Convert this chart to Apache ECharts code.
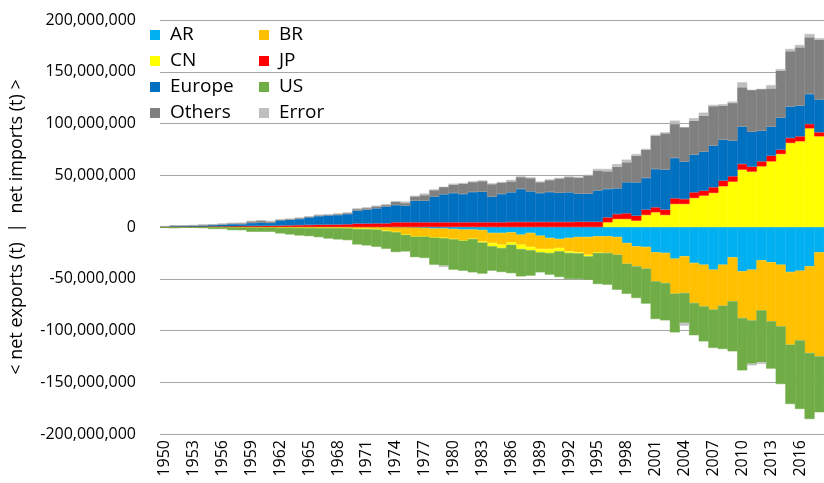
<!DOCTYPE html>
<html lang="en">

<head>
    <meta charset="UTF-8">
    <title>Soybean net trade</title>
    <script src="https://cdn.jsdelivr.net/npm/echarts@6/dist/echarts.min.js"></script>
    <style>
        html, body { margin: 0; padding: 0; background: #fff; }
        #chart { width: 824px; height: 483px; }
    </style>
</head>

<body>
    <div id="chart"></div>

    <script>
        // years 1950 - 2018
        const years = [];
        for (let y = 1950; y <= 2018; y++) years.push(String(y));

        // values in million tonnes (+ = net imports, - = net exports)
        const AR = [
            0, 0, 0, 0, 0, 0, 0, 0, 0, 0, 0, 0, 0, 0, 0, 0, 0, 0, 0, 0, 0, 0, 0, 0,
            -0.3, -0.3, -0.5, -0.8, -1.5, -1.5, -2, -2.5, -2.5, -3,
            -5.8, -5.8, -5.2, -7.4, -5.8, -8.4, -10.6, -11.6, -10.6, -9.7, -9.7, -9.0,
            -9.0, -9.7, -15.5, -18.7, -19.3, -24.5, -25.1, -30.6, -28.3, -34.8, -36.4, -41.2,
            -36.4, -29.3, -42.8, -41.2, -32.2, -34.1, -36.4, -43.5, -42.2, -38.0, -24.5
        ];
        const BR = [
            0, 0, 0, 0, 0, 0, 0, 0, -0.1, -0.1, -0.1, -0.1, -0.2, -0.2, -0.3, -0.4, -0.5, -0.5, -0.6, -0.7, -1.3, -1.6, -2.0, -3.5,
            -4.5, -7.0, -8.5, -8.2, -8.5, -9.1, -9.6, -10.4, -8.8, -11.0,
            -9.7, -11.3, -9.7, -9.7, -13.5, -12.9, -10.6, -8.7, -12.9, -14.8, -17.1, -15.5,
            -16.1, -17.1, -20.0, -19.3, -20.9, -28.0, -29.0, -33.8, -35.4, -38.6, -40.3, -38.6,
            -39.6, -42.5, -45.1, -49.0, -48.3, -57.0, -59.6, -70.2, -67.3, -83.7, -100.5
        ];
        const CN = [
            -0.3, -0.3, -0.2, -0.2, -0.3, -0.4, -0.4, -0.5, -0.5, -0.5, -0.5, -0.5, -0.6, -0.6, -0.6, -0.6, -0.6, -0.6, -0.6, -0.6, -0.6, -0.5, -0.5, -0.5,
            -0.3, -0.3, -0.3, -0.3, -0.3, -0.3, -0.3, -0.3, -0.3, -1.0,
            -3.2, -3.2, -2.3, -4.2, -3.2, -3.2, -3.9, -3.2, -1.6, -1.0, -1.6, -0.6,
            4.5, 7.7, 7.7, 6.1, 11.6, 14.2, 11.6, 22.2, 22.2, 28.0, 30.3, 32.9,
            39.3, 43.8, 55.4, 53.5, 58.6, 63.4, 70.5, 81.2, 82.8, 95.3, 87.6
        ];
        const JP = [
            0, 0.2, 0.3, 0.3, 0.4, 0.5, 0.6, 0.7, 0.8, 1.0, 1.1, 1.2, 1.4, 1.6, 1.8, 2.0, 2.2, 2.3, 2.4, 2.6, 3.3, 3.3, 3.5, 3.5,
            4.5, 4.5, 4.5, 4.5, 4.5, 4.5, 4.5, 4.5, 4.5, 4.5,
            4.5, 4.5, 4.8, 4.8, 4.8, 4.8, 4.8, 4.8, 4.8, 5.0, 5.0, 5.0,
            4.8, 4.8, 5.5, 4.8, 5.2, 4.8, 5.2, 5.5, 4.8, 5.5, 4.8, 5.5,
            5.5, 5.2, 5.5, 4.8, 4.8, 5.5, 4.2, 4.8, 4.8, 4.2, 3.9
        ];
        const Europe = [
            0.3, 0.8, 0.8, 0.9, 1.2, 1.5, 1.8, 2.1, 1.9, 2.9, 3.2, 2.8, 5.0, 5.4, 6.0, 7.3, 8.3, 8.9, 9.2, 10.0, 12.5, 13.4, 14.5, 16.1,
            16.7, 16.1, 20.9, 20.9, 24.8, 27.1, 28.3, 27.4, 29.3, 29.6,
            24.8, 27.4, 28.7, 31.9, 29.6, 28.0, 29.0, 28.3, 28.7, 27.1, 27.1, 30.3,
            27.4, 24.8, 30.0, 32.2, 30.6, 37.0, 38.6, 39.0, 36.1, 36.4, 37.7, 40.3,
            39.6, 34.5, 36.1, 33.8, 29.6, 28.0, 30.9, 30.3, 29.6, 29.0, 31.6
        ];
        const US = [
            -0.5, -0.9, -0.5, -0.6, -0.8, -1.5, -1.5, -2.5, -2.5, -4.0, -4.0, -4.0, -5.4, -6.4, -7.3, -7.8, -8.7, -10.0, -10.8, -11.4, -15.0, -15.7, -16.6, -17.0,
            -19.1, -16.0, -19.8, -20.6, -26.1, -26.4, -29.3, -29.0, -32.2, -30.0,
            -23.5, -23.2, -27.4, -26.4, -24.5, -19.3, -20.9, -24.8, -25.1, -24.8, -22.5, -30.0,
            -30.6, -33.8, -29.0, -30.6, -33.8, -36.4, -36.1, -37.4, -29.0, -31.2, -33.8, -37.0,
            -41.9, -48.3, -50.6, -41.9, -50.2, -45.7, -55.7, -57.3, -66.3, -63.8, -54.0
        ];
        const Others = [
            0.2, 0.2, 0.2, 0.3, 0.3, 0.3, 0.4, 0.8, 1.0, 1.6, 1.8, 1.3, 0.6, 0.6, 0.9, 0.6, 0.9, 0.6, 1.0, 1.0, 1.6, 1.7, 2.0, 1.7,
            3.2, 2.6, 4.2, 5.5, 6.4, 7.1, 8.1, 10.0, 9.7, 10.3,
            12.2, 11.0, 10.6, 11.6, 12.9, 10.6, 11.6, 13.8, 14.8, 15.5, 17.7, 19.3,
            17.1, 20.9, 19.3, 25.8, 27.4, 32.2, 35.1, 32.9, 33.2, 32.9, 34.8, 38.0,
            32.9, 36.4, 38.0, 40.3, 40.3, 37.0, 45.4, 53.5, 56.4, 54.8, 58.0
        ];
        const Error = [
            0.3, 0.3, 0.2, 0.3, 0.3, 0.3, 0.3, 0.3, 0.3, 0.3, 0.3, 0.6, 0.3, 0.3, 0.2, 0.3, 0.3, 0.3, 0.3, 0.3, 0.5, 0.5, 0.5, 0.9,
            0.5, 1.5, 0.5, 1.5, 0.5, -1.3, 1.0, 0.5, 0.5, 0.5,
            0.5, 0.5, 1.5, 0.5, 0.5, 0.5, 0.5, 0.5, 0.5, 1.0, 0.5, 1.6,
            2.3, 2.6, 2.6, 1.6, 0.6, 1.0, 1.0, 3.2, -2.6, 2.3, 2.9, 1.3,
            1.3, 1.3, 4.8, -1.6, -1.6, 3.2, 1.6, 2.3, 2.3, 3.2, 1.3
        ];

        const seriesDefs = [
            { name: 'AR', data: AR, color: '#00B0F0' },
            { name: 'BR', data: BR, color: '#FFC000' },
            { name: 'CN', data: CN, color: '#FFFF00' },
            { name: 'JP', data: JP, color: '#FF0000' },
            { name: 'Europe', data: Europe, color: '#0070C0' },
            { name: 'US', data: US, color: '#70AD47' },
            { name: 'Others', data: Others, color: '#808080' },
            { name: 'Error', data: Error, color: '#BFBFBF' }
        ];

        const font = 'Open Sans';

        const legendBase = {
            orient: 'vertical',
            top: 20,
            itemWidth: 8,
            itemHeight: 8,
            itemGap: 6,
            icon: 'rect',
            selectedMode: false,
            textStyle: { fontFamily: font, fontSize: 19, color: '#000', lineHeight: 20, padding: [0, 0, 0, 6] }
        };

        const chart = echarts.init(document.getElementById('chart'));
        chart.setOption({
            animation: false,
            backgroundColor: '#fff',
            legend: [
                Object.assign({}, legendBase, { left: 145, data: ['AR', 'CN', 'Europe', 'Others'] }),
                Object.assign({}, legendBase, { left: 254, data: ['BR', 'JP', 'US', 'Error'] })
            ],
            grid: { left: 146, right: -7, top: 20, bottom: 49, containLabel: false },
            xAxis: {
                type: 'category',
                data: years,
                axisLine: { show: false, onZero: false },
                axisTick: { show: false },
                axisLabel: { interval: 2, rotate: 90, margin: 6, fontFamily: font, fontSize: 16, color: '#000' }
            },
            yAxis: {
                type: 'value',
                min: -200,
                max: 200,
                interval: 50,
                name: '< net exports (t)  |  net imports (t) >',
                nameLocation: 'middle',
                nameGap: 134,
                nameTextStyle: { fontFamily: font, fontSize: 18, color: '#000' },
                axisLine: { show: false },
                axisTick: { show: false },
                axisLabel: {
                    margin: 24,
                    fontFamily: font,
                    fontSize: 16,
                    color: '#000',
                    formatter: v => (v * 1e6).toLocaleString('en-US')
                },
                splitLine: { lineStyle: { color: '#a6a6a6', width: 1 } }
            },
            series: seriesDefs.map(s => ({
                name: s.name,
                type: 'bar',
                stack: 'total',
                barWidth: '104%',
                data: s.data,
                itemStyle: { color: s.color, borderColor: s.color, borderWidth: 0.5 }
            }))
        });
    </script>
</body>

</html>
